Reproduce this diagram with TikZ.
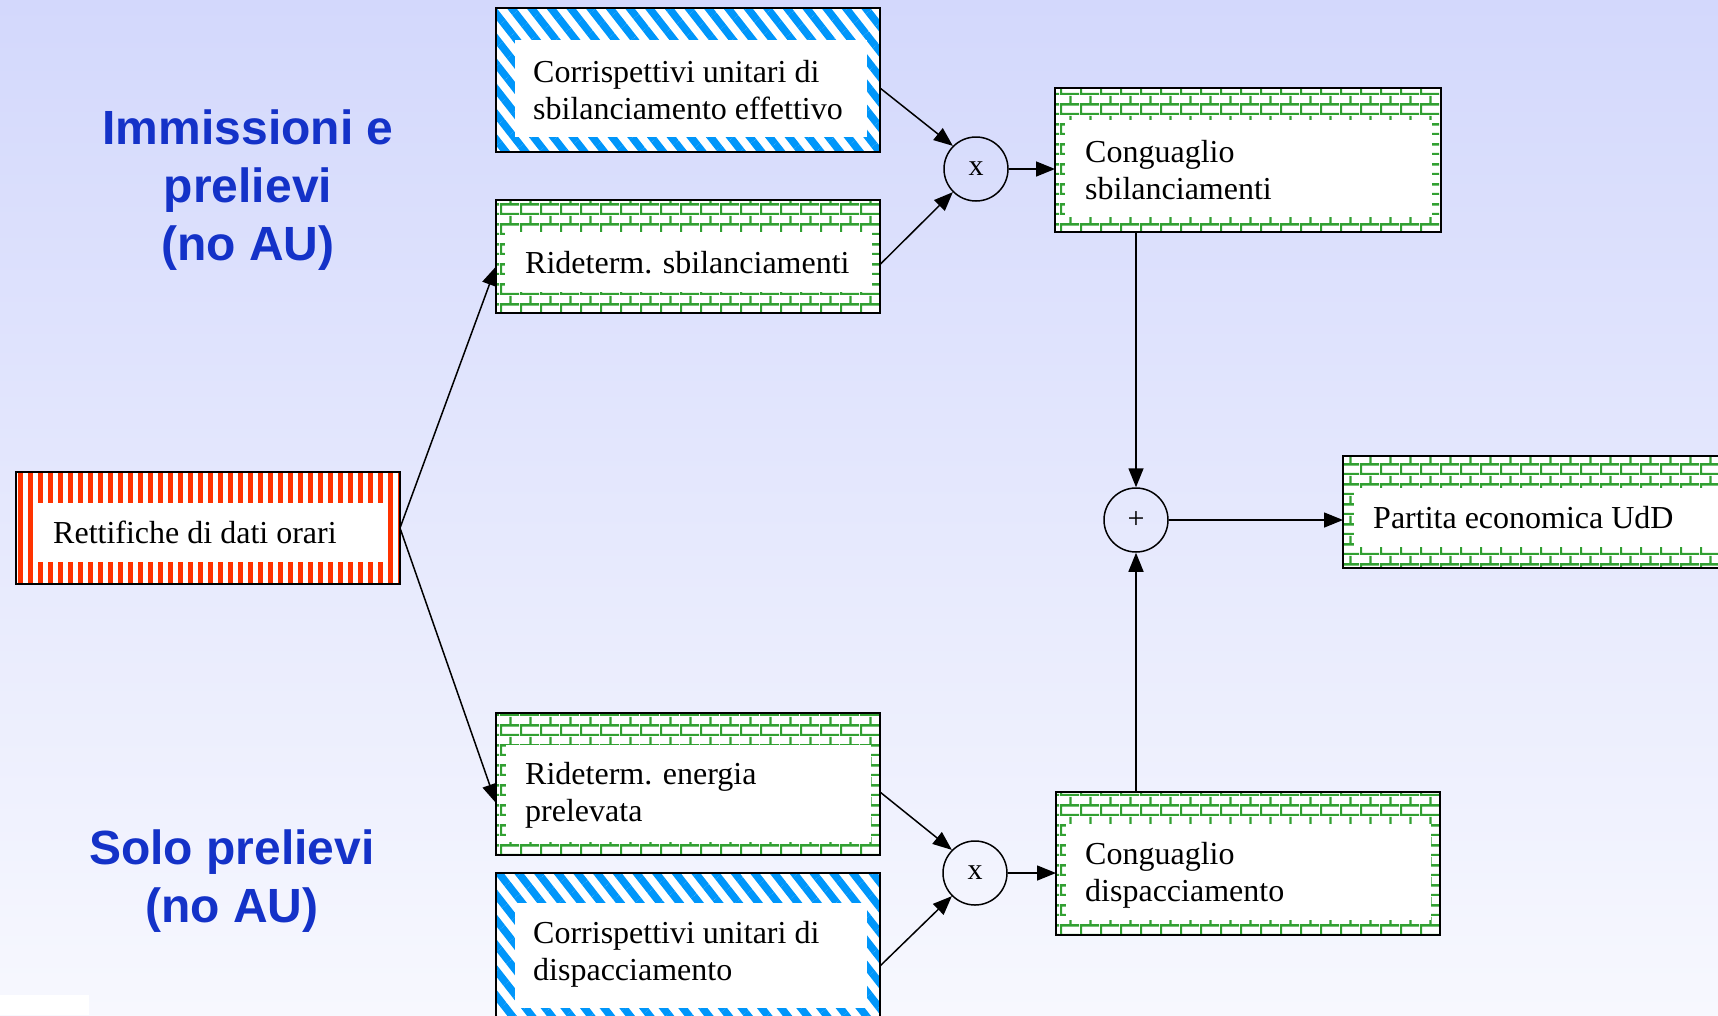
\documentclass[tikz,border=0pt]{standalone}
\usepackage{fontspec}
\setmainfont{Liberation Serif}
\newfontfamily\titlefont{Liberation Sans}
\usetikzlibrary{patterns,patterns.meta,arrows.meta,calc}
\definecolor{bgtop}{RGB}{211,216,252}
\definecolor{bgbot}{RGB}{247,248,254}
\definecolor{stripeblue}{RGB}{0,150,250}
\definecolor{brickgreen}{RGB}{50,160,50}
\definecolor{stripered}{RGB}{255,51,0}
\definecolor{titleblue}{RGB}{20,50,200}
\pgfdeclarepatternformonly{mybrickwall}{\pgfqpoint{0pt}{0pt}}{\pgfqpoint{20pt}{20pt}}{\pgfqpoint{20pt}{20pt}}{%
  \pgfsetlinewidth{2.6pt}%
  \pgfpathmoveto{\pgfqpoint{0pt}{1pt}}\pgfpathlineto{\pgfqpoint{20pt}{1pt}}%
  \pgfpathmoveto{\pgfqpoint{0pt}{11pt}}\pgfpathlineto{\pgfqpoint{20pt}{11pt}}%
  \pgfpathmoveto{\pgfqpoint{1pt}{1pt}}\pgfpathlineto{\pgfqpoint{1pt}{11pt}}%
  \pgfpathmoveto{\pgfqpoint{11pt}{11pt}}\pgfpathlineto{\pgfqpoint{11pt}{20pt}}%
  \pgfpathmoveto{\pgfqpoint{11pt}{0pt}}\pgfpathlineto{\pgfqpoint{11pt}{1pt}}%
  \pgfusepath{stroke}%
}
\tikzset{
  boxbase/.style={anchor=north west, inner sep=0pt, draw=black, preaction={fill=white}},
  bluebox/.style={boxbase, pattern={Lines[angle=-52,distance=15.5pt,line width=7.5pt]}, pattern color=stripeblue, line width=2pt, outer sep=0pt},
  brickbox/.style={boxbase, pattern=mybrickwall, pattern color=brickgreen, line width=2pt, outer sep=0pt},
  redbox/.style={boxbase, pattern={Lines[angle=90,distance=10pt,line width=5pt]}, pattern color=stripered, line width=2pt, outer sep=0pt},
  txt/.style={anchor=base west, align=left, inner sep=0pt, font=\fontsize{32}{37}\selectfont},
  ttl/.style={anchor=base, align=center, inner sep=0pt, text=titleblue, font=\titlefont\bfseries\fontsize{48}{58}\selectfont},
  opnode/.style={circle, draw=black, line width=1.5pt, minimum size=64pt, inner sep=0pt, font=\fontsize{30}{30}\selectfont},
  arr/.style={-{Triangle[length=19pt,width=15pt]}, line width=1.5pt}
}
\begin{document}
\begin{tikzpicture}[x=1pt,y=-1pt]
\useasboundingbox (0,0) rectangle (1718,1015);
\clip (0,0) rectangle (1718,1015);
\shade[top color=bgtop, bottom color=bgbot] (0,0) rectangle (1718,1015);
\fill[white] (0,995) rectangle (89,1015);

% boxes
\node[bluebox, minimum width=384pt, minimum height=144pt] (A) at (496,8) {};
\node[brickbox, minimum width=384pt, minimum height=113pt] (B) at (496,200) {};
\node[redbox, minimum width=384pt, minimum height=112pt] (R) at (16,472) {};
\node[brickbox, minimum width=386pt, minimum height=144pt] (C) at (1055,88) {};
\node[brickbox, minimum width=420pt, minimum height=112pt] (P) at (1343,456) {};
\node[brickbox, minimum width=384pt, minimum height=142pt] (D) at (496,713) {};
\node[bluebox, minimum width=384pt, minimum height=150pt] (E) at (496,873) {};
\node[brickbox, minimum width=384pt, minimum height=143pt] (F) at (1056,792) {};

% inner white panels
\fill[white] ($(A.north west)+(19,32)$) rectangle ($(A.south east)+(-13,-15)$);
\fill[white] ($(B.north west)+(9,32)$) rectangle ($(B.south east)+(-8,-21)$);
\fill[white] ($(R.north west)+(17,31)$) rectangle ($(R.south east)+(-13,-22)$);
\fill[white] ($(C.north west)+(10,32)$) rectangle ($(C.south east)+(-9,-15)$);
\fill[white] ($(P.north west)+(11,32)$) rectangle ($(P.south east)+(-9,-21)$);
\fill[white] ($(D.north west)+(10,32)$) rectangle ($(D.south east)+(-9,-13)$);
\fill[white] ($(E.north west)+(19,30)$) rectangle ($(E.south east)+(-13,-15)$);
\fill[white] ($(F.north west)+(10,32)$) rectangle ($(F.south east)+(-9,-15)$);

% texts (base anchor = last line's baseline)
\node[txt] (tA) at (533,119) {Corrispettivi unitari di\\sbilanciamento effettivo};
\node[txt] (tB) at (525,273) {Rideterm. sbilanciamenti};
\node[txt] (tR) at (53,543) {Rettifiche di dati orari};
\node[txt] (tC) at (1085,199) {Conguaglio\\sbilanciamenti};
\node[txt] (tP) at (1373,528) {Partita economica UdD};
\node[txt] (tD) at (525,821) {Rideterm. energia\\prelevata};
\node[txt] (tE) at (533,980) {Corrispettivi unitari di\\dispacciamento};
\node[txt] (tF) at (1085,901) {Conguaglio\\dispacciamento};

% titles
\node[ttl] (t1) at (248,260) {Immissioni e\\prelievi\\(no AU)};
\node[ttl] (t2) at (232,922) {Solo prelievi\\(no AU)};

% operators
\node[opnode] (x1) at (976,169) {x};
\node[opnode] (plus) at (1136,520) {+};
\node[opnode] (x2) at (975,873) {x};

% connectors
\draw[arr] ($(A.east)+(0,8)$) -- (x1.135);
\draw[arr] ($(B.east)+(0,8)$) -- (x1.225);
\draw[arr] (x1.east) -- (x1.east -| C.west);
\draw[arr] (plus |- C.south) -- (plus.north);
\draw[arr] (plus |- F.north) -- (plus.south);
\draw[arr] (plus.east) -- (plus.east -| P.west);
\draw[arr] (R.east) -- ($(B.west)+(0,10)$);
\draw[arr] (R.east) -- ($(D.west)+(0,19)$);
\draw[arr] ($(D.east)+(0,8)$) -- (x2.135);
\draw[arr] ($(E.east)+(0,18)$) -- (x2.225);
\draw[arr] (x2.east) -- (x2.east -| F.west);
\end{tikzpicture}
\end{document}
